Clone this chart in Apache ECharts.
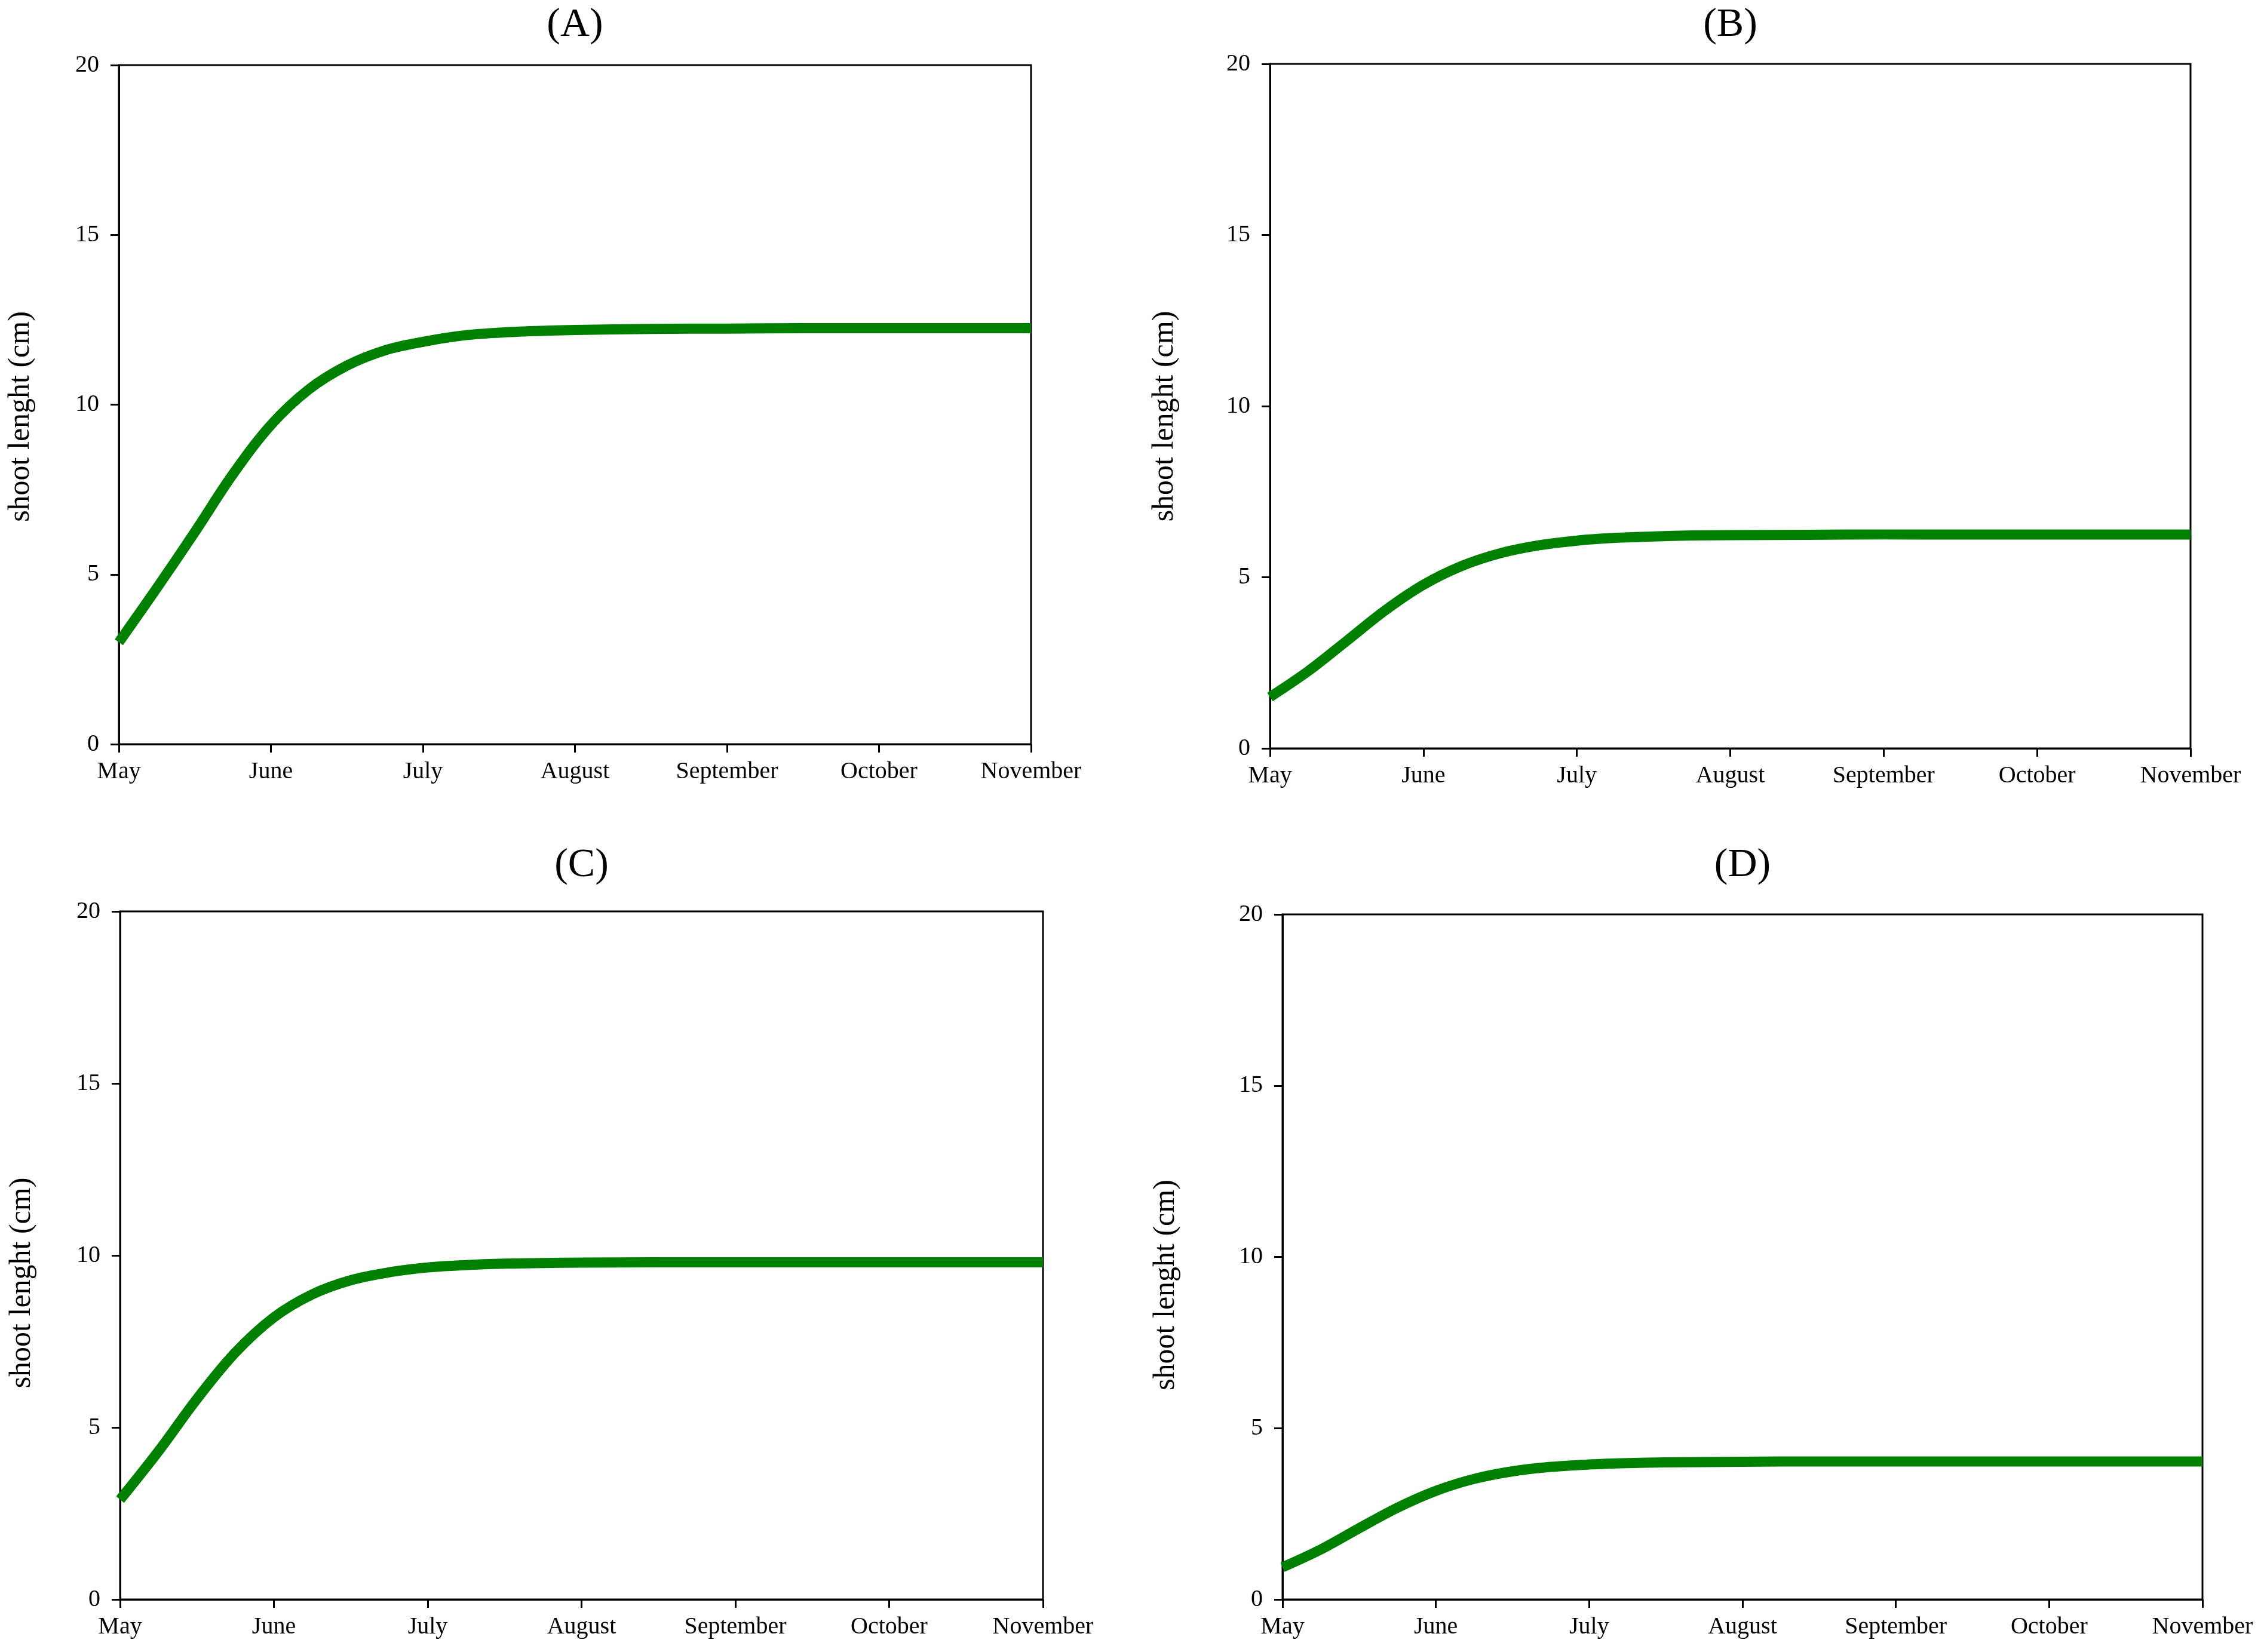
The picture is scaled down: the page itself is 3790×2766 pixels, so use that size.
<!DOCTYPE html>
<html>
<head>
<meta charset="utf-8">
<script src="https://cdn.jsdelivr.net/npm/echarts@6/dist/echarts.min.js"></script>
<style>
  html, body { margin: 0; padding: 0; background: #ffffff; }
  #chart { width: 3790px; height: 2766px; }
</style>
</head>
<body>
<div id="chart"></div>
<script>
// ---- data ----
const months = ['May', 'June', 'July', 'August', 'September', 'October', 'November'];
const panelTitles = ['(A)', '(B)', '(C)', '(D)'];
const yAxisName = 'shoot lenght (cm)';
// time in months after the start of May
const t = [0, 0.25, 0.5, 0.75, 1, 1.25, 1.5, 1.75, 2, 2.25, 2.5, 2.75, 3, 3.5, 4, 4.5, 5, 5.5, 6];
const panelA = [3.0, 4.6, 6.25, 7.95, 9.4, 10.45, 11.15, 11.6, 11.85, 12.03, 12.12, 12.17, 12.2, 12.23, 12.24, 12.25, 12.25, 12.25, 12.25];
const panelB = [1.5, 2.26, 3.14, 4.03, 4.78, 5.33, 5.70, 5.93, 6.07, 6.15, 6.19, 6.22, 6.23, 6.24, 6.25, 6.25, 6.25, 6.25, 6.25];
const panelC = [2.9, 4.31, 5.83, 7.18, 8.2, 8.87, 9.28, 9.51, 9.65, 9.72, 9.76, 9.78, 9.79, 9.8, 9.8, 9.8, 9.8, 9.8, 9.8];
const panelD = [0.94, 1.46, 2.08, 2.68, 3.17, 3.52, 3.74, 3.87, 3.94, 3.98, 4.0, 4.01, 4.02, 4.03, 4.03, 4.03, 4.03, 4.03, 4.03];
const yMin = 0, yMax = 20, yStep = 5;

// ---- layout ----
const grids = [
  { left: 199,  top: 109,  width: 1527, height: 1137 },
  { left: 2126, top: 107,  width: 1541, height: 1146 },
  { left: 201,  top: 1526, width: 1545, height: 1152 },
  { left: 2147, top: 1531, width: 1540, height: 1147 }
];
const nameGaps = [139, 151, 139, 170];
const nameShiftDown = [20, 17, 46, 47];
const titleTops = [8, 8, 1415, 1415];
const series = [panelA, panelB, panelC, panelD];

const FONT = '"Liberation Serif", "Times New Roman", serif';
const chart = echarts.init(document.getElementById('chart'), null, { renderer: 'canvas' });

const option = {
  backgroundColor: '#ffffff',
  animation: false,
  title: grids.map((g, i) => ({
    text: panelTitles[i],
    left: g.left + g.width / 2,
    top: titleTops[i],
    textAlign: 'center',
    padding: 0,
    textStyle: { fontFamily: FONT, fontSize: 68, fontWeight: 'normal', color: '#000' }
  })),
  grid: grids.map(g => Object.assign({
    show: true, borderColor: '#000', borderWidth: 3, backgroundColor: 'transparent', containLabel: false
  }, g)),
  xAxis: grids.map((g, i) => ({
    type: 'value', gridIndex: i, min: 0, max: months.length - 1, interval: 1,
    axisLine: { show: true, lineStyle: { color: '#000', width: 3 } },
    axisTick: { show: true, inside: false, length: 14, lineStyle: { color: '#000', width: 3 } },
    splitLine: { show: false },
    axisLabel: {
      show: true, margin: 26, showMinLabel: true, showMaxLabel: true,
      fontFamily: FONT, fontSize: 40, color: '#000',
      formatter: v => months[Math.round(v)]
    }
  })),
  yAxis: grids.map((g, i) => ({
    type: 'value', gridIndex: i, min: yMin, max: yMax, interval: yStep,
    name: yAxisName, nameLocation: 'middle', nameGap: nameGaps[i], nameRotate: 90,
    nameTextStyle: {
      fontFamily: FONT, fontSize: 50, color: '#000',
      padding: [0, 2 * nameShiftDown[i], 0, 0]
    },
    axisLine: { show: true, lineStyle: { color: '#000', width: 3 } },
    axisTick: { show: true, inside: false, length: 14, lineStyle: { color: '#000', width: 3 } },
    splitLine: { show: false },
    axisLabel: {
      show: true, margin: 33, showMinLabel: true, showMaxLabel: true,
      fontFamily: FONT, fontSize: 40, color: '#000'
    }
  })),
  series: series.map((vals, i) => ({
    type: 'line', xAxisIndex: i, yAxisIndex: i,
    data: t.map((x, k) => [x, vals[k]]),
    showSymbol: false, symbol: 'none', smooth: 0.35,
    lineStyle: { color: '#008000', width: 17, cap: 'butt', join: 'round' },
    clip: true
  }))
};
chart.setOption(option);
</script>
</body>
</html>
